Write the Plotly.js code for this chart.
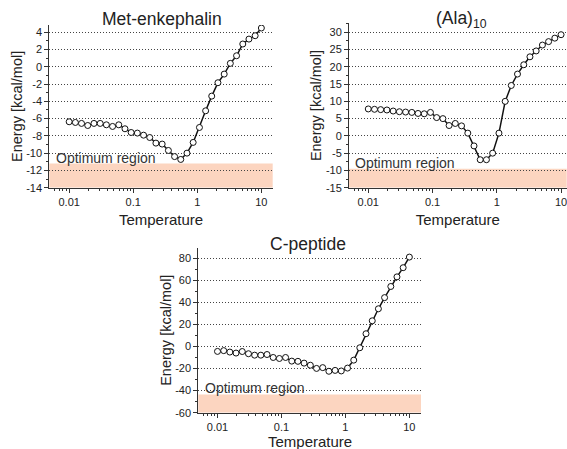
<!DOCTYPE html>
<html>
<head>
<meta charset="utf-8">
<script src="https://cdn.plot.ly/plotly-3.0.1.min.js"></script>
<style>html,body{margin:0;padding:0;background:#fff}#chart{width:567px;height:449px}</style>
</head>
<body>
<div id="chart"></div>
<script>
// Temperature values (shared by all three panels)
const temperature = [0.01, 0.0125, 0.0156, 0.0195, 0.0244, 0.0305, 0.0381, 0.0476, 0.0595, 0.0743,
  0.0928, 0.116, 0.145, 0.181, 0.226, 0.283, 0.354, 0.442, 0.552, 0.690,
  0.862, 1.08, 1.35, 1.68, 2.10, 2.63, 3.28, 4.10, 5.13, 6.40, 8.00, 10];

const metEnkephalin = [-6.37, -6.45, -6.56, -6.80, -6.56, -6.56, -6.72, -6.91, -6.72, -7.18,
  -7.61, -7.68, -7.92, -8.19, -8.84, -8.95, -9.69, -10.4, -10.73, -10.0,
  -8.76, -7.03, -5.10, -3.40, -1.85, -0.85, 0.39, 1.27, 2.63, 3.20, 3.59, 4.48];

const ala10 = [7.8, 7.7, 7.6, 7.5, 7.2, 7.0, 6.9, 6.8, 6.5, 6.4,
  6.8, 5.3, 5.0, 3.0, 3.6, 2.9, 0.8, -2.9, -6.9, -6.9,
  -5.0, 0.8, 10.0, 14.6, 17.9, 20.6, 22.9, 24.6, 26.3, 27.3, 28.3, 29.3];

const cPeptide = [-4.5, -3.8, -5.1, -6.0, -4.6, -6.6, -7.9, -7.9, -7.3, -10.0,
  -10.9, -10.0, -13.3, -13.5, -15.1, -17.0, -19.9, -19.2, -22.5, -21.7,
  -22.2, -19.6, -12.4, -1.2, 11.5, 23.2, 34.1, 44.2, 54.3, 63.0, 71.3, 80.9];

const panelTitles = ['Met-enkephalin', '(Ala)<sub>10</sub>', 'C-peptide'];
const xTitle = 'Temperature';
const yTitle = 'Energy [kcal/mol]';
const bandLabel = 'Optimum region';
// optimum region band: [bottom, top] in energy units
const bandMet = [-14, -11.2];
const bandAla = [-15, -9.5];
const bandCpep = [-60, -43.5];

// tick labels
const xTickVals = [0.01, 0.1, 1, 10];
const xTickText = ['0.01', '0.1', '1', '10'];
const xMinorVals = [0.006, 0.007, 0.008, 0.009,
  0.02, 0.03, 0.04, 0.05, 0.06, 0.07, 0.08, 0.09,
  0.2, 0.3, 0.4, 0.5, 0.6, 0.7, 0.8, 0.9,
  2, 3, 4, 5, 6, 7, 8, 9];
const yTicksMet = [-14, -12, -10, -8, -6, -4, -2, 0, 2, 4];
const yTicksAla = [-15, -10, -5, 0, 5, 10, 15, 20, 25, 30];
const yTicksCpep = [-60, -40, -20, 0, 20, 40, 60, 80];

const W = 567, H = 449;
const FONT = 'Arial, "Liberation Sans", sans-serif';
const INK = '#222';
const AXIS = '#333';

function xAxis(domain, range, anchor, withTitle) {
  const ax = {
    domain: domain, anchor: anchor, type: 'log', range: range,
    tickmode: 'array', tickvals: xTickVals, ticktext: xTickText,
    ticklabeloverflow: 'allow',
    ticks: 'outside', ticklen: 4, tickwidth: 1, tickcolor: AXIS,
    showline: true, linecolor: AXIS, linewidth: 1,
    showgrid: false, zeroline: false,
    tickfont: {size: 11, color: INK, family: FONT},
    minor: {tickmode: 'array', tickvals: xMinorVals, ticks: 'outside', ticklen: 2, tickcolor: AXIS, showgrid: false}
  };
  if (withTitle) ax.title = {text: xTitle, font: {size: 15, color: INK, family: FONT}, standoff: 7};
  return ax;
}
function yAxis(domain, range, ticks, anchor) {
  const step = ticks[1] - ticks[0];
  return {
    domain: domain, anchor: anchor, range: range,
    tickmode: 'array', tickvals: ticks, ticktext: ticks.map(v => String(v)),
    ticks: 'outside', ticklen: 4, tickwidth: 1, tickcolor: AXIS,
    showline: true, linecolor: AXIS, linewidth: 1,
    showgrid: true, gridcolor: '#444', gridwidth: 1, griddash: '1px,2px',
    zeroline: false,
    tickfont: {size: 11, color: INK, family: FONT},
    minor: {tickmode: 'linear', tick0: 0, dtick: step / 2, ticks: 'outside', ticklen: 2, tickcolor: AXIS, showgrid: false},
    title: {text: yTitle, font: {size: 14.5, color: INK, family: FONT}, standoff: 0}
  };
}

function series(y, xa, ya) {
  return {
    x: temperature, y: y, xaxis: xa, yaxis: ya, type: 'scatter', mode: 'lines+markers',
    line: {color: '#111', width: 1.5},
    marker: {symbol: 'circle', size: 6, color: '#fff', line: {color: '#111', width: 1}},
    hoverinfo: 'x+y'
  };
}

const data = [
  series(metEnkephalin, 'x', 'y'),
  series(ala10, 'x2', 'y2'),
  series(cPeptide, 'x3', 'y3')
];

const domMetX = [49.3 / W, 272.7 / W], domMetY = [1 - 187.7 / H, 1 - 25 / H];
const domAlaX = [349 / W, 566.7 / W], domAlaY = [1 - 187.7 / H, 1 - 23.3 / H];
const domCX = [198.3 / W, 421 / W], domCY = [1 - 412.7 / H, 1 - 247.7 / H];

function band(b, xr, yr) {
  return {type: 'rect', xref: xr + ' domain', yref: yr, x0: 0, x1: 1, y0: b[0], y1: b[1],
    fillcolor: '#FCD5C0', line: {width: 0}, layer: 'below'};
}
function bandText(b, xr, yr) {
  return {xref: xr + ' domain', yref: yr, x: 0.02, y: b[1], xanchor: 'left', yanchor: 'bottom',
    text: bandLabel, showarrow: false, yshift: -4,
    font: {size: 14, color: '#333', family: FONT}};
}
function paperText(txt, xc, yc, size) {
  return {xref: 'paper', yref: 'paper', x: xc / W, y: 1 - yc / H, xanchor: 'center', yanchor: 'middle',
    text: txt, showarrow: false, borderpad: 0, font: {size: size, color: INK, family: FONT}};
}

const layout = {
  width: W, height: H,
  margin: {l: 0, r: 0, t: 0, b: 0},
  paper_bgcolor: '#fff', plot_bgcolor: 'rgba(0,0,0,0)',
  showlegend: false,
  font: {family: FONT, color: INK},
  xaxis: xAxis(domMetX, [-2.31, 1.177], 'y', true),
  yaxis: yAxis(domMetY, [-14, 4.83], yTicksMet, 'x'),
  xaxis2: xAxis(domAlaX, [-2.30, 1.088], 'y2', true),
  yaxis2: yAxis(domAlaY, [-15, 32.6], yTicksAla, 'x2'),
  xaxis3: xAxis(domCX, [-2.30, 1.182], 'y3', false),
  yaxis3: yAxis(domCY, [-60, 89.4], yTicksCpep, 'x3'),
  shapes: [band(bandMet, 'x', 'y'), band(bandAla, 'x2', 'y2'), band(bandCpep, 'x3', 'y3')],
  annotations: [
    bandText(bandMet, 'x', 'y'), bandText(bandAla, 'x2', 'y2'), bandText(bandCpep, 'x3', 'y3'),
    paperText(panelTitles[0], 162, 19, 17.5),
    paperText(panelTitles[1], 461, 19, 17.5),
    paperText(panelTitles[2], 308, 244, 17.5),
    paperText(xTitle, 309.7, 441, 15)
  ]
};

Plotly.newPlot('chart', data, layout, {staticPlot: true, displayModeBar: false});
</script>
</body>
</html>
